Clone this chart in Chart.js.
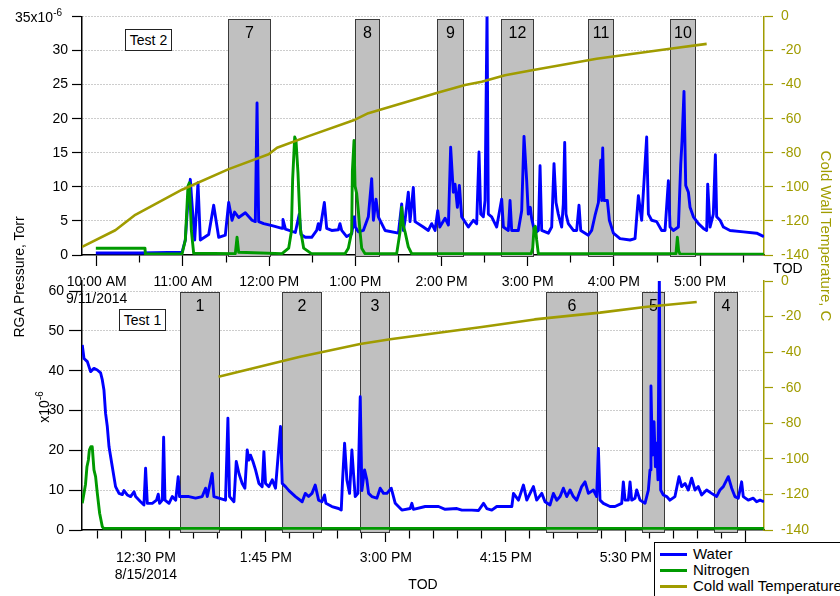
<!DOCTYPE html>
<html>
<head>
<meta charset="utf-8">
<title>RGA Pressure</title>
<script src="https://cdn.jsdelivr.net/npm/chart.js@4.4.1/dist/chart.umd.min.js"></script>
<style>
  body { margin: 0; background: #fff; }
  #wrap { position: relative; width: 840px; height: 596px; overflow: hidden;
          font-family: "Liberation Sans", Arial, sans-serif; font-size: 14px; color: #000; }
  canvas { position: absolute; left: 0; top: 0; }
  .txt { position: absolute; white-space: nowrap; line-height: 16px; }
  .rotL { transform: translate(-50%, -50%) rotate(-90deg); }
  .rotR { transform: translate(-50%, -50%) rotate(90deg); }
  .mid { transform: translate(-50%, -50%); }
  sup { font-size: 10px; vertical-align: 6px; line-height: 0; }
  .tag { position: absolute; border: 1px solid #222; background: #fff; text-align: center;
         line-height: 20px; width: 45px; height: 20px; }
  #legend { position: absolute; left: 654px; top: 542px; width: 200px; height: 60px;
            border: 1px solid #000; background: #fff; font-size: 15px; }
  .lg { position: absolute; left: 0; height: 16px; line-height: 16px; }
  .lg i { position: absolute; left: 5px; top: 7px; width: 27px; height: 3px; }
  .lg span { position: absolute; left: 38px; top: 0; white-space: nowrap; }
</style>
</head>
<body>
<div id="wrap">
  <canvas id="test2" width="840" height="596"></canvas>
  <canvas id="test1" width="840" height="596"></canvas>

  <div class="txt" style="left:15px;top:9px;">35x10<sup>-6</sup></div>
  <div class="txt rotL" style="left:19px;top:277px;">RGA Pressure, Torr</div>
  <div class="txt rotL" style="left:44px;top:407px;">x10<sup>-6</sup></div>
  <div class="txt rotR" style="left:826px;top:236px;color:#a09c00;font-size:15px;">Cold Wall Temperature, C</div>
  <div class="txt mid" style="left:788px;top:268px;">TOD</div>
  <div class="txt mid" style="left:423px;top:584px;">TOD</div>
  <div class="tag" style="left:125px;top:29px;">Test 2</div>
  <div class="tag" style="left:119px;top:309px;">Test 1</div>

  <div id="legend">
    <div class="lg" style="top:3px;"><i style="background:#0000ff"></i><span>Water</span></div>
    <div class="lg" style="top:19px;"><i style="background:#009a00"></i><span>Nitrogen</span></div>
    <div class="lg" style="top:35px;"><i style="background:#a09c00"></i><span>Cold wall Temperature</span></div>
  </div>
</div>

<script>
// Test 2 (9/11/2014) - hours of day
const water2Time = [
  9.99, 10.5, 10.99, 11.028, 11.059, 11.086, 11.10, 11.137, 11.175, 11.202,
  11.299, 11.357, 11.415, 11.492, 11.531, 11.57, 11.6, 11.647, 11.724, 11.802,
  11.84, 11.86, 11.879, 11.937, 12.034, 12.15, 12.161, 12.19, 12.304, 12.35,
  12.37, 12.42, 12.494, 12.552, 12.571, 12.59, 12.641, 12.668, 12.726, 12.803,
  12.822, 12.842, 12.9, 12.958, 12.989, 13.0, 13.035, 13.093, 13.151, 13.19,
  13.21, 13.24, 13.267, 13.345, 13.5, 13.538, 13.557, 13.577, 13.615, 13.635,
  13.673, 13.693, 13.789, 13.847, 13.886, 13.925, 13.956, 13.98, 14.041, 14.08,
  14.106, 14.137, 14.157, 14.184, 14.207, 14.234, 14.311, 14.369, 14.408, 14.435,
  14.455, 14.485, 14.505, 14.528, 14.543, 14.582, 14.64, 14.698, 14.718, 14.775,
  14.795, 14.814, 14.891, 14.93, 14.957, 14.988, 15.007, 15.03, 15.046, 15.085,
  15.124, 15.143, 15.162, 15.239, 15.278, 15.305, 15.328, 15.355, 15.394, 15.413,
  15.429, 15.444, 15.471, 15.53, 15.568, 15.595, 15.615, 15.703, 15.742, 15.781,
  15.82, 15.847, 15.858, 15.87, 15.885, 15.924, 15.947, 15.994, 16.071, 16.187,
  16.245, 16.284, 16.322, 16.38, 16.4, 16.438, 16.496, 16.554, 16.593, 16.632,
  16.651, 16.69, 16.748, 16.775, 16.79, 16.813, 16.833, 16.864, 16.883, 16.922,
  16.98, 17.038, 17.076, 17.088, 17.115, 17.153, 17.177, 17.192, 17.231, 17.27,
  17.347, 17.502, 17.656, 17.74
];
const water2Val = [
  0.3, 0.3, 0.4, 2.2, 8.0, 11.1, 8.5, 2.2, 10.6, 2.2,
  3.0, 7.3, 2.6, 2.9, 7.7, 5.1, 6.3, 5.5, 6.2, 5.1,
  4.9, 22.3, 4.9, 4.6, 4.3, 3.9, 5.2, 3.8, 3.3, 6.0,
  3.0, 2.6, 2.6, 3.6, 4.6, 3.7, 7.7, 3.9, 3.6, 3.7,
  4.6, 3.6, 2.7, 3.1, 5.6, 4.1, 3.4, 3.6, 5.6, 11.2,
  5.1, 8.2, 5.6, 3.6, 3.2, 7.5, 3.6, 5.1, 9.2, 4.9,
  9.9, 4.9, 4.1, 3.6, 4.6, 3.6, 6.5, 4.1, 5.4, 4.4,
  15.8, 9.2, 10.4, 7.0, 10.2, 5.6, 4.1, 5.1, 4.6, 15.1,
  6.0, 5.6, 8.0, 35.4, 6.0, 5.6, 4.1, 8.2, 4.1, 3.6,
  8.0, 3.6, 3.6, 6.5, 17.4, 10.9, 6.0, 7.0, 5.3, 3.2,
  3.6, 13.1, 3.6, 3.2, 4.1, 13.4, 7.7, 6.0, 4.1, 7.5,
  16.5, 6.0, 4.6, 3.6, 3.6, 7.3, 3.6, 2.9, 3.6, 5.8,
  7.7, 13.9, 8.0, 15.7, 8.0, 8.0, 5.1, 3.2, 2.4, 2.2,
  2.4, 8.7, 5.1, 17.3, 6.0, 5.1, 4.9, 3.6, 3.6, 10.9,
  4.1, 3.6, 4.1, 13.3, 16.7, 24.0, 10.2, 9.2, 7.0, 5.6,
  4.6, 3.9, 3.6, 10.4, 4.1, 6.0, 14.7, 5.6, 5.1, 4.1,
  3.6, 3.4, 3.2, 2.7
];
const nitro2Time = [
  9.99, 10.56, 10.565, 10.99, 11.028, 11.059, 11.075, 11.098, 11.125, 11.608,
  11.628, 11.647, 12.15, 12.227, 12.258, 12.273, 12.297, 12.312, 12.335, 12.362,
  12.401, 12.49, 12.88, 12.919, 12.958, 12.966, 12.985, 12.997, 13.016, 13.035,
  13.055, 13.074, 13.113, 13.48, 13.519, 13.538, 13.557, 13.577, 13.615, 13.654,
  15.04, 15.058, 15.073, 15.089, 15.104, 15.123, 16.72, 16.736, 16.751, 16.767,
  17.74
];
const nitro2Val = [
  1.0, 1.0, 0.15, 0.15, 2.2, 10.1, 10.6, 3.6, 0.25, 0.2,
  2.6, 0.4, 0.2, 1.0, 3.4, 11.1, 17.3, 16.8, 12.0, 3.9,
  1.0, 0.2, 0.2, 1.0, 3.4, 12.3, 16.8, 10.1, 9.0, 6.5,
  3.4, 1.0, 0.2, 0.2, 3.4, 7.0, 4.3, 3.4, 1.2, 0.2,
  0.2, 1.0, 3.9, 4.2, 2.2, 0.2, 0.2, 2.6, 0.6, 0.1,
  0.1
];
const temp2Time = [9.83, 10.216, 10.448, 10.99, 11.531, 11.995, 12.092, 12.45, 12.997,
  13.151, 13.963, 14.273, 14.466, 14.737, 15.05, 15.8, 16.651, 17.076];
const temp2Val = [-135.2, -125.5, -116.4, -101.7, -89.6, -80.9, -77.1, -70.4, -60.6,
  -56.8, -44.6, -40.3, -38.3, -34.5, -31.6, -24.8, -19.0, -16.1];
const box2Start = [11.527, 12.993, 13.944, 14.694, 15.696, 16.654];
const box2End = [12.01, 13.278, 14.253, 15.065, 15.993, 16.937];
const box2Label = ['7', '8', '9', '12', '11', '10'];
const tick2Val = [10, 10.5, 11, 11.5, 12, 12.5, 13, 13.5, 14, 14.5, 15, 15.5, 16, 16.5, 17, 17.5];
const tick2Text = [['10:00 AM', '9/11/2014'], '', '11:00 AM', '', '12:00 PM', '', '1:00 PM', '',
  '2:00 PM', '', '3:00 PM', '', '4:00 PM', '', '5:00 PM', ''];
const press2Ticks = [0, 5, 10, 15, 20, 25, 30, 35];
const press2Text = ['0', '5', '10', '15', '20', '25', '30', ''];

// Test 1 (8/15/2014)
const water1Time = [
  11.836, 11.854, 11.889, 11.923, 11.958, 11.993, 12.027, 12.045, 12.062, 12.079,
  12.097, 12.115, 12.149, 12.183, 12.219, 12.253, 12.271, 12.305, 12.34, 12.375,
  12.392, 12.444, 12.479, 12.496, 12.514, 12.566, 12.61, 12.628, 12.642, 12.67,
  12.684, 12.698, 12.74, 12.774, 12.81, 12.836, 12.85, 12.878, 12.948, 13.017,
  13.086, 13.121, 13.139, 13.19, 13.208, 13.26, 13.329, 13.354, 13.371, 13.417,
  13.441, 13.469, 13.503, 13.531, 13.555, 13.573, 13.59, 13.615, 13.642, 13.677,
  13.711, 13.729, 13.746, 13.781, 13.816, 13.85, 13.902, 13.92, 13.954, 13.99,
  14.058, 14.128, 14.16, 14.195, 14.23, 14.264, 14.299, 14.334, 14.361, 14.375,
  14.438, 14.507, 14.535, 14.549, 14.57, 14.594, 14.622, 14.646, 14.663, 14.681,
  14.709, 14.733, 14.75, 14.778, 14.802, 14.82, 14.854, 14.907, 14.941, 14.976,
  15.011, 15.056, 15.098, 15.167, 15.254, 15.271, 15.288, 15.41, 15.549, 15.618,
  15.74, 15.792, 15.896, 15.966, 16.018, 16.052, 16.104, 16.156, 16.243, 16.313,
  16.33, 16.382, 16.434, 16.469, 16.503, 16.538, 16.572, 16.625, 16.659, 16.711,
  16.746, 16.781, 16.816, 16.85, 16.885, 16.92, 16.954, 16.989, 17.041, 17.076,
  17.111, 17.163, 17.197, 17.215, 17.232, 17.267, 17.336, 17.388, 17.458, 17.475,
  17.493, 17.527, 17.545, 17.562, 17.597, 17.614, 17.649, 17.701, 17.736, 17.753,
  17.763, 17.777, 17.795, 17.809, 17.822, 17.836, 17.85, 17.864, 17.892, 17.927,
  17.961, 18.013, 18.055, 18.083, 18.118, 18.152, 18.187, 18.222, 18.256, 18.291,
  18.343, 18.395, 18.447, 18.482, 18.517, 18.569, 18.604, 18.638, 18.673, 18.708,
  18.725, 18.777, 18.829, 18.864, 18.899, 18.94
];
const water1Val = [
  46.5, 43.1, 42.3, 39.8, 40.6, 40.2, 39.5, 37.7, 35.2, 29.3,
  26.0, 20.9, 15.9, 10.9, 9.2, 8.9, 9.9, 8.8, 8.4, 9.6,
  8.4, 7.1, 6.3, 15.5, 6.7, 6.7, 7.5, 9.0, 6.7, 7.5,
  23.3, 7.5, 6.7, 8.4, 7.5, 13.4, 8.4, 8.4, 8.4, 8.0,
  8.4, 10.5, 8.4, 14.2, 8.4, 8.0, 7.5, 28.1, 8.4, 7.1,
  17.2, 14.2, 11.7, 10.5, 20.1, 17.6, 18.8, 17.2, 15.1, 11.7,
  10.9, 19.7, 11.7, 10.9, 12.6, 10.5, 26.0, 11.7, 10.9, 9.9,
  8.4, 7.1, 9.2, 8.4, 9.2, 11.3, 7.5, 7.1, 8.8, 6.7,
  5.9, 5.4, 5.0, 12.6, 21.8, 12.6, 9.2, 20.1, 14.2, 8.4,
  9.2, 33.5, 9.9, 15.1, 12.6, 9.2, 8.4, 8.0, 10.5, 9.2,
  9.2, 10.5, 6.7, 5.0, 5.4, 6.7, 5.2, 5.9, 5.9, 5.2,
  5.4, 5.0, 5.0, 4.9, 6.7, 5.4, 5.0, 5.9, 5.9, 5.9,
  9.2, 7.5, 11.3, 7.5, 9.2, 10.9, 7.5, 9.2, 7.1, 6.3,
  9.2, 7.5, 8.4, 10.5, 8.4, 10.05, 8.4, 7.5, 10.9, 12.1,
  9.2, 10.05, 8.4, 20.5, 7.5, 6.7, 5.9, 5.9, 6.7, 12.1,
  7.5, 7.5, 12.1, 7.5, 8.0, 10.05, 7.5, 6.7, 10.05, 15.1,
  36.2, 18.8, 27.2, 15.9, 21.8, 12.6, 64.0, 10.05, 8.8, 8.4,
  7.5, 8.4, 13.4, 10.9, 11.7, 10.05, 13.0, 10.05, 10.9, 8.8,
  10.05, 9.2, 8.4, 10.05, 10.9, 13.4, 10.5, 8.4, 8.0, 12.1,
  8.4, 7.5, 8.0, 7.1, 7.5, 7.1
];
const nitro1Time = [11.836, 11.87, 11.885, 11.9, 11.91, 11.925, 11.94, 11.958, 11.975,
  11.993, 12.017, 12.045, 12.06, 18.94];
const nitro1Val = [6.7, 11.5, 15.9, 17.6, 20.1, 20.9, 20.9, 15.1, 13.4, 9.2, 4.2, 0.8, 0.4, 0.4];
const temp1Time = [13.256, 14.107, 14.732, 15.045, 16.0, 16.55, 17.232, 17.7, 18.24];
const temp1Val = [-53.8, -42.6, -35.4, -32.8, -25.9, -21.6, -17.8, -14.6, -11.8];
const box1Start = [12.85, 13.92, 14.732, 16.667, 17.667, 18.417];
const box1End = [13.256, 14.326, 15.034, 17.204, 17.899, 18.656];
const box1Label = ['1', '2', '3', '6', '5', '4'];
const tick1Val = [12, 12.25, 12.5, 12.75, 13, 13.25, 13.5, 13.75, 14, 14.25, 14.5, 14.75, 15, 15.25,
  15.5, 15.75, 16, 16.25, 16.5, 16.75, 17, 17.25, 17.5, 17.75, 18, 18.25, 18.5, 18.75];
const tick1Text = ['', '', ['12:30 PM', '8/15/2014'], '', '', '', '', '1:45 PM', '', '', '', '', '3:00 PM', '',
  '', '', '', '4:15 PM', '', '', '', '', '5:30 PM', '', '', '', '', '6:45 PM'];
const press1Ticks = [0, 10, 20, 30, 40, 50, 60];
const press1Text = ['0', '10', '20', '30', '40', '50', '60'];

const tempTicks = [-140, -130, -120, -110, -100, -90, -80, -70, -60, -50, -40, -30, -20, -10, 0];
const tempText = ['-140', '', '-120', '', '-100', '', '-80', '', '-60', '', '-40', '', '-20', '', '0'];

const BLUE = '#0000ff';
const GREEN = '#009a00';
const OLIVE = '#a09c00';
const FAMILY = '"Liberation Sans", Arial, sans-serif';
const FONT = { family: FAMILY, size: 14 };

Chart.defaults.font.family = FAMILY;
Chart.defaults.color = '#000';

function series(ts, vs) {
  return ts.map((t, i) => ({ x: t, y: vs[i] }));
}

// grey marker boxes with their numbers, placed through the chart scales
function boxPlugin(starts, ends, labels, topVal, bottomVal) {
  return {
    id: 'markerBoxes',
    beforeDatasetsDraw(chart) {
      const { ctx } = chart;
      const x = chart.scales.x, y = chart.scales.y;
      ctx.save();
      ctx.lineWidth = 1;
      ctx.font = '16px ' + FAMILY;
      ctx.textAlign = 'center';
      ctx.textBaseline = 'middle';
      starts.forEach((s, i) => {
        const x0 = Math.round(x.getPixelForValue(s)) + 0.5;
        const x1 = Math.round(x.getPixelForValue(ends[i])) + 0.5;
        const y0 = Math.round(y.getPixelForValue(topVal)) + 0.5;
        const y1 = Math.round(y.getPixelForValue(bottomVal)) + 0.5;
        ctx.fillStyle = '#c0c0c0';
        ctx.fillRect(x0, y0, x1 - x0, y1 - y0);
        ctx.strokeStyle = '#3a3a3a';
        ctx.strokeRect(x0, y0, x1 - x0, y1 - y0);
        ctx.fillStyle = '#000';
        ctx.fillText(labels[i], (x0 + x1) / 2, y0 + 14);
      });
      ctx.restore();
    }
  };
}

function makePanel(id, p) {
  return new Chart(document.getElementById(id), {
    type: 'line',
    data: {
      datasets: [
        { label: 'Cold wall Temperature', data: series(p.tempT, p.tempV), yAxisID: 'y2', borderColor: OLIVE, borderWidth: 2.6, order: 0 },
        { label: 'Nitrogen', data: series(p.n2T, p.n2V), yAxisID: 'y', borderColor: GREEN, order: 1 },
        { label: 'Water', data: series(p.h2oT, p.h2oV), yAxisID: 'y', borderColor: BLUE, order: 2 }
      ]
    },
    plugins: [boxPlugin(p.boxS, p.boxE, p.boxL, p.boxTop, p.boxBottom)],
    options: {
      responsive: false,
      animation: false,
      events: [],
      layout: { padding: p.padding },
      elements: {
        point: { radius: 0 },
        line: { tension: 0, borderWidth: 2.9, borderJoinStyle: 'round', fill: false }
      },
      plugins: { legend: { display: false }, tooltip: { enabled: false } },
      scales: {
        x: {
          type: 'linear', min: p.xMin, max: p.xMax,
          afterBuildTicks: s => { s.ticks = p.xTicks.map(v => ({ value: v })); },
          afterFit: s => { s.height = 50; },
          ticks: { autoSkip: false, maxRotation: 0, padding: p.xPad, color: '#000', font: FONT,
                   callback: (v, i) => p.xText[i] },
          grid: { drawOnChartArea: false, tickLength: p.xTickLen, tickColor: '#000', tickWidth: 1.2,
                  tickBorderDash: c => (p.xText[c.index] === '' ? [p.xTickLen - 4, 30] : []) },
          border: { color: '#000', width: 1.5 }
        },
        y: {
          position: 'left', min: 0, max: p.yMax,
          afterBuildTicks: s => { s.ticks = p.yTicks.map(v => ({ value: v })); },
          afterFit: s => { s.width = 82; },
          ticks: { padding: p.yPad, color: '#000', font: FONT, callback: (v, i) => p.yText[i] },
          grid: { color: c => (c.tick && c.tick.value === 0 ? 'rgba(0,0,0,0)' : '#9a9a9a'),
                  lineWidth: 1, tickLength: p.yTickLen, tickColor: '#000', tickWidth: 1.2 },
          border: { color: '#000', width: 1.5, dash: [1, 2] }
        },
        y2: {
          position: 'right', min: -140, max: 0,
          afterBuildTicks: s => { s.ticks = tempTicks.map(v => ({ value: v })); },
          afterFit: s => { s.width = 76; },
          ticks: { padding: 8, color: OLIVE, font: FONT, callback: (v, i) => tempText[i] },
          grid: { drawOnChartArea: false, tickLength: 9, tickColor: OLIVE, tickWidth: 1.2,
                  tickBorderDash: c => (tempText[c.index] === '' ? [5, 30] : []) },
          border: { color: OLIVE, width: 1.5 }
        }
      }
    }
  });
}

makePanel('test2', {
  h2oT: water2Time, h2oV: water2Val, n2T: nitro2Time, n2V: nitro2Val, tempT: temp2Time, tempV: temp2Val,
  boxS: box2Start, boxE: box2End, boxL: box2Label, boxTop: 34.55, boxBottom: -0.2,
  xMin: 9.8295, xMax: 17.741, xTicks: tick2Val, xText: tick2Text, xPad: 8, xTickLen: 11,
  yMax: 35, yTicks: press2Ticks, yText: press2Text, yPad: 4, yTickLen: 10,
  padding: { top: 14, bottom: 291, left: 0, right: 0 }
});

makePanel('test1', {
  h2oT: water1Time, h2oV: water1Val, n2T: nitro1Time, n2V: nitro1Val, tempT: temp1Time, tempV: temp1Val,
  boxS: box1Start, boxE: box1End, boxL: box1Label, boxTop: 59.7, boxBottom: -0.6,
  xMin: 11.8333, xMax: 18.941, xTicks: tick1Val, xText: tick1Text, xPad: 8, xTickLen: 12,
  yMax: 62.56, yTicks: press1Ticks, yText: press1Text, yPad: 5, yTickLen: 13,
  padding: { top: 281, bottom: 16, left: 0, right: 0 }
});
</script>
</body>
</html>
